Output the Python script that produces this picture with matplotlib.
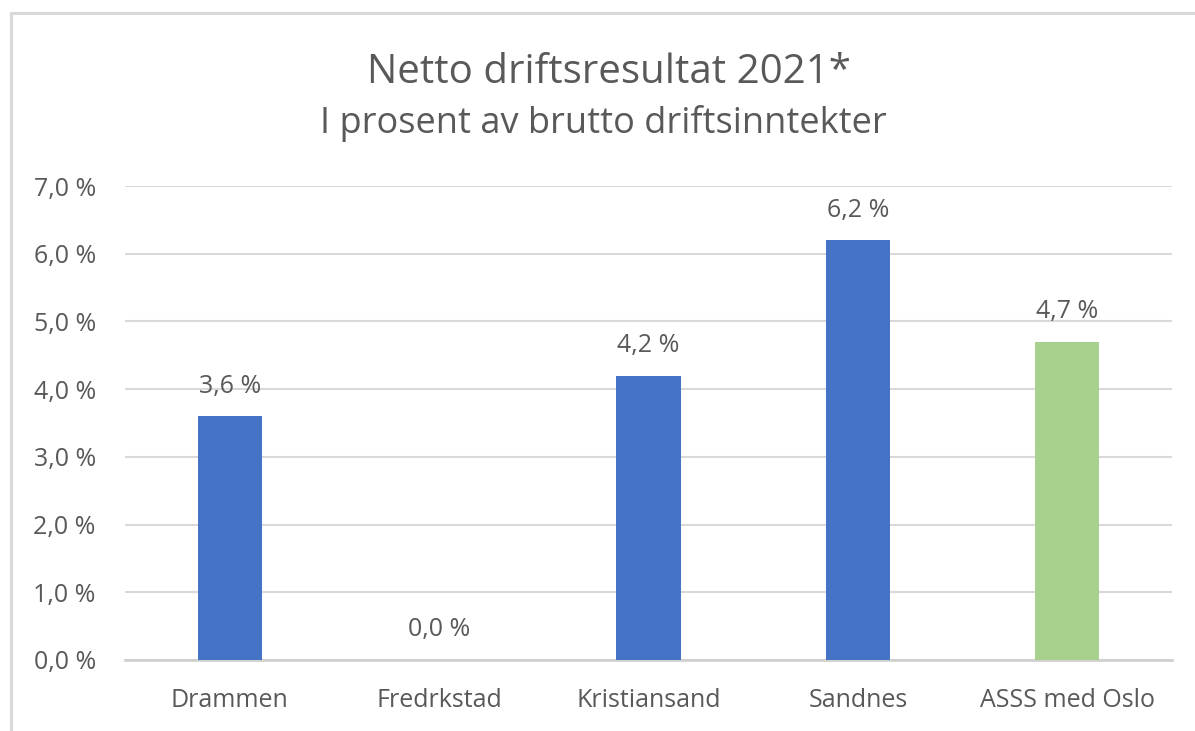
import matplotlib
matplotlib.use("Agg")
import matplotlib.pyplot as plt
from matplotlib.patches import Rectangle

categories = ["Drammen", "Fredrkstad", "Kristiansand", "Sandnes", "ASSS med Oslo"]
values = [3.6, 0.0, 4.2, 6.2, 4.7]
colors = ["#4472C4", "#4472C4", "#4472C4", "#4472C4", "#A9D18E"]
yticks = [0, 1, 2, 3, 4, 5, 6, 7]
ytick_labels = ["0,0 %", "1,0 %", "2,0 %", "3,0 %", "4,0 %", "5,0 %", "6,0 %", "7,0 %"]
title = "Netto driftsresultat 2021*"
subtitle = "I prosent av brutto driftsinntekter"

plt.rcParams['font.family'] = ['Open Sans', 'DejaVu Sans']
txt = "#595959"

fig = plt.figure(figsize=(11.95, 7.31), dpi=100)
fig.patches.append(Rectangle((11/1195, -0.1), 1.2, 1 - 13/731 + 0.1,
                             transform=fig.transFigure, fill=False,
                             edgecolor="#d9d9d9", linewidth=2.2))
ax = fig.add_axes([125/1195, 1 - 660/731, (1172-125)/1195, (660-186)/731])

x = range(len(categories))
ax.bar(x, values, width=0.306, color=colors, zorder=3)
for xi, v in zip(x, values):
    ax.annotate(f"{v:.1f} %".replace(".", ","), (xi, v), xytext=(0, 17),
                textcoords="offset points", ha="center", va="baseline",
                fontsize=18, color=txt)

ax.set_xlim(-0.5, len(categories) - 0.5)
ax.set_ylim(0, 7)
ax.set_yticks(yticks)
ax.set_yticklabels(ytick_labels, fontsize=18, color=txt)
ax.set_xticks(list(x))
ax.set_xticklabels(categories, fontsize=18, color=txt)
ax.tick_params(axis="both", length=0)
ax.tick_params(axis="y", pad=21)
ax.tick_params(axis="x", pad=20)
ax.grid(axis="y", color="#d9d9d9", linewidth=1.5, zorder=0)
for s in ["top", "right", "left"]:
    ax.spines[s].set_visible(False)
ax.spines["bottom"].set_color("#d0d0d0")
ax.spines["bottom"].set_linewidth(2.0)

fig.text(609/1195, 1 - 83/731, title, ha="center", va="baseline", fontsize=29, color=txt)
fig.text(603/1195, 1 - 133/731, subtitle, ha="center", va="baseline", fontsize=26, color=txt)

fig.savefig("out.png", dpi=100)
